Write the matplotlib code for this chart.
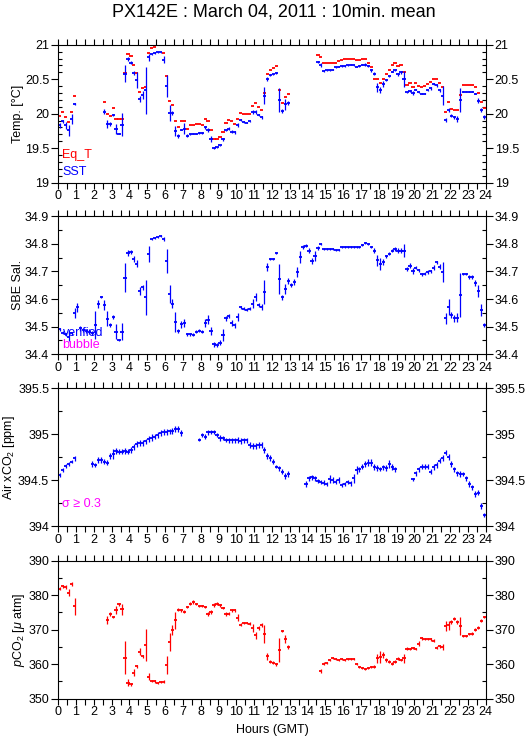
import numpy as np
import matplotlib
matplotlib.use("Agg")
import matplotlib.pyplot as plt
from matplotlib.ticker import MultipleLocator, FormatStrFormatter

plt.rcParams["font.family"] = ["Liberation Sans", "DejaVu Sans"]
plt.rcParams["mathtext.fontset"] = "custom"
plt.rcParams["mathtext.rm"] = "Liberation Sans"
plt.rcParams["mathtext.it"] = "Liberation Sans:italic"

N = np.nan

# 10-minute slots, one line per hour (6 slots)
sst = [
    19.83, 19.89, 19.83, 19.76, 19.92, 20.14,
    N, N, N, N, N, N,
    N, N, N, 20.03, 19.85, 19.85,
    19.98, 19.78, 19.71, 19.84, 20.58, 20.79,
    20.74, 20.59, 20.49, 20.21, 20.27, 20.34,
    20.82, 20.86, 20.88, 20.89, 20.89, 20.78,
    20.40, 20.01, 20.01, 19.75, 19.68, 19.77,
    19.78, 19.68, 19.70, 19.71, 19.71, 19.72,
    19.72, 19.80, 19.76, 19.63, 19.50, 19.51,
    19.54, 19.63, 19.76, 19.78, 19.74, 19.73,
    19.84, 19.91, 19.88, 19.87, 19.89, 20.02,
    20.03, 19.98, 19.95, 20.26, 20.50, 20.56,
    20.57, 20.59, 20.20, 20.04, 20.14, 20.16,
    N, N, N, N, N, N,
    N, N, N, 20.75, 20.71, 20.62,
    20.63, 20.63, 20.64, 20.67, 20.68, 20.69,
    20.69, 20.70, 20.71, 20.70, 20.68, 20.69,
    20.71, 20.71, 20.69, 20.63, 20.58, 20.38,
    20.34, 20.43, 20.49, 20.54, 20.61, 20.63,
    20.57, 20.60, 20.50, 20.31, 20.33, 20.30,
    20.35, 20.31, 20.29, 20.29, 20.34, 20.37,
    20.43, 20.41, 20.34, 20.26, 19.91, 20.05,
    19.97, 19.95, 19.92, 20.20, 20.32, 20.32,
    20.32, 20.32, 20.29, 20.19, 20.05, 19.95,
]
sst_sd = [
    0.036, 0.02, 0.05, 0.08, 0.07, 0.01,
    0, 0, 0, 0, 0, 0,
    0, 0, 0, 0.04, 0.06, 0.03,
    0.02, 0.07, 0.01, 0.17, 0.12, 0.03,
    0.02, 0.03, 0.12, 0.04, 0.06, 0.34,
    0.05, 0.01, 0.01, 0.01, 0.01, 0.05,
    0.16, 0.12, 0.03, 0.07, 0.03, 0.01,
    0.08, 0.02, 0.01, 0.01, 0.01, 0.01,
    0.01, 0.02, 0.03, 0.04, 0.01, 0.01,
    0.01, 0.02, 0.01, 0.02, 0.02, 0.02,
    0.03, 0.01, 0.01, 0.01, 0.01, 0.03,
    0.03, 0.02, 0.02, 0.12, 0.03, 0.01,
    0.01, 0.01, 0.17, 0.03, 0.08, 0.03,
    0, 0, 0, 0, 0, 0,
    0, 0, 0, 0.02, 0.03, 0.01,
    0.01, 0.01, 0.01, 0.01, 0.01, 0.01,
    0.01, 0.01, 0.01, 0.01, 0.01, 0.01,
    0.01, 0.02, 0.01, 0.02, 0.02, 0.06,
    0.04, 0.04, 0.02, 0.01, 0.01, 0.01,
    0.02, 0.02, 0.12, 0.01, 0.02, 0.03,
    0.01, 0.01, 0.01, 0.01, 0.01, 0.02,
    0.02, 0.02, 0.02, 0.14, 0.03, 0.03,
    0.02, 0.02, 0.04, 0.17, 0.01, 0.01,
    0.01, 0.01, 0.01, 0.04, 0.03, 0.03,
]
eq_t = [
    19.97, 20.02, 19.95, 19.88, 20.02, 20.25,
    N, N, N, N, N, N,
    N, N, N, 20.17, 20.00, 19.96,
    20.08, 19.93, 19.92, 19.92, 20.59, 20.86,
    20.84, 20.70, 20.59, 20.31, 20.37, 20.39,
    20.88, 20.95, 20.97, 20.99, 20.99, 20.88,
    20.54, 20.18, 20.12, 19.90, 19.81, 19.89,
    19.89, 19.78, 19.83, 19.83, 19.85, 19.85,
    19.84, 19.93, 19.90, 19.77, 19.64, 19.64,
    19.66, 19.74, 19.87, 19.91, 19.90, 19.85,
    19.93, 20.01, 20.00, 19.99, 20.00, 20.11,
    20.15, 20.09, 20.06, 20.30, 20.58, 20.64,
    20.66, 20.69, 20.34, 20.15, 20.24, 20.29,
    N, N, N, N, N, N,
    N, N, N, 20.85, 20.82, 20.73,
    20.73, 20.73, 20.73, 20.73, 20.76, 20.78,
    20.79, 20.80, 20.79, 20.79, 20.78, 20.78,
    20.80, 20.79, 20.73, 20.68, 20.50, 20.50,
    20.44, 20.50, 20.57, 20.64, 20.70, 20.73,
    20.69, 20.70, 20.61, 20.41, 20.44, 20.38,
    20.45, 20.40, 20.38, 20.40, 20.43, 20.46,
    20.50, 20.50, 20.44, 20.38, 20.03, 20.17,
    20.07, 20.06, 20.05, 20.27, 20.41, 20.42,
    20.41, 20.42, 20.38, 20.30, 20.17, 20.08,
]

sal = [
    34.490, 34.478, 34.473, 34.464, 34.476, 34.548,
    34.570, 34.494, 34.488, 34.485, 34.482, 34.478,
    34.506, 34.582, 34.608, 34.578, 34.529, 34.506,
    34.536, 34.482, 34.452, 34.482, 34.678, 34.767,
    34.770, 34.746, 34.728, 34.630, 34.642, 34.606,
    34.764, 34.818, 34.821, 34.824, 34.829, 34.817,
    34.738, 34.618, 34.584, 34.518, 34.484, 34.509,
    34.514, 34.473, 34.473, 34.471, 34.482, 34.485,
    34.482, 34.514, 34.526, 34.485, 34.436, 34.434,
    34.442, 34.470, 34.530, 34.538, 34.514, 34.505,
    34.536, 34.570, 34.565, 34.562, 34.565, 34.584,
    34.608, 34.578, 34.572, 34.626, 34.716, 34.744,
    34.744, 34.767, 34.674, 34.606, 34.638, 34.666,
    34.650, 34.662, 34.698, 34.752, 34.788, 34.794,
    34.776, 34.738, 34.755, 34.786, 34.800, 34.782,
    34.782, 34.782, 34.782, 34.779, 34.779, 34.788,
    34.788, 34.788, 34.788, 34.788, 34.790, 34.790,
    34.795, 34.803, 34.800, 34.788, 34.776, 34.740,
    34.728, 34.734, 34.755, 34.764, 34.776, 34.782,
    34.776, 34.776, 34.776, 34.708, 34.721, 34.702,
    34.714, 34.704, 34.690, 34.692, 34.698, 34.700,
    34.714, 34.733, 34.718, 34.698, 34.530, 34.572,
    34.542, 34.530, 34.533, 34.614, 34.692, 34.692,
    34.680, 34.680, 34.658, 34.630, 34.560, 34.506,
]
sal_sd = [
    0.005, 0.005, 0.005, 0.015, 0.005, 0.018,
    0.015, 0.008, 0.008, 0.008, 0.008, 0.008,
    0.05, 0.015, 0.005, 0.018, 0.027, 0.008,
    0.008, 0.027, 0.005, 0.03, 0.054, 0.012,
    0.008, 0.01, 0.012, 0.015, 0.01, 0.063,
    0.03, 0.004, 0.004, 0.004, 0.004, 0.008,
    0.042, 0.033, 0.018, 0.036, 0.008, 0.012,
    0.015, 0.005, 0.005, 0.005, 0.005, 0.005,
    0.005, 0.015, 0.015, 0.015, 0.008, 0.008,
    0.008, 0.021, 0.01, 0.008, 0.012, 0.008,
    0.015, 0.005, 0.005, 0.005, 0.005, 0.015,
    0.015, 0.008, 0.01, 0.042, 0.015, 0.004,
    0.004, 0.005, 0.054, 0.01, 0.018, 0.012,
    0.008, 0.01, 0.018, 0.021, 0.008, 0.005,
    0.01, 0.012, 0.018, 0.008, 0.005, 0.004,
    0.004, 0.004, 0.004, 0.004, 0.004, 0.004,
    0.004, 0.004, 0.004, 0.004, 0.004, 0.004,
    0.004, 0.004, 0.004, 0.004, 0.008, 0.021,
    0.021, 0.012, 0.006, 0.006, 0.006, 0.006,
    0.01, 0.01, 0.024, 0.008, 0.01, 0.01,
    0.006, 0.006, 0.006, 0.006, 0.006, 0.006,
    0.01, 0.006, 0.008, 0.036, 0.021, 0.03,
    0.012, 0.012, 0.015, 0.08, 0.004, 0.004,
    0.008, 0.008, 0.012, 0.022, 0.021, 0.006,
]

xco2 = [
    394.556, 394.610, 394.654, 394.675, 394.700, 394.737,
    N, N, N, N, N, 394.672,
    394.665, 394.720, 394.720, 394.700, 394.690, 394.763,
    394.785, 394.817, 394.810, 394.810, 394.813, 394.810,
    394.828, 394.857, 394.893, 394.900, 394.900, 394.919,
    394.948, 394.962, 394.973, 394.990, 395.010, 395.024,
    395.024, 395.028, 395.035, 395.053, 395.053, 395.010,
    N, N, N, N, N, 394.937,
    394.988, 394.973, 395.017, 395.024, 395.024, 394.988,
    394.955, 394.959, 394.937, 394.930, 394.930, 394.930,
    394.937, 394.922, 394.930, 394.930, 394.879, 394.872,
    394.872, 394.879, 394.883, 394.828, 394.763, 394.737,
    394.700, 394.646, 394.628, 394.592, 394.545, 394.566,
    N, N, N, N, N, 394.458,
    394.519, 394.530, 394.519, 394.490, 394.480, 394.472,
    394.458, 394.508, 394.501, 394.483, 394.501, 394.447,
    394.458, 394.480, 394.465, 394.519, 394.610, 394.617,
    394.646, 394.675, 394.690, 394.690, 394.639, 394.628,
    394.621, 394.639, 394.628, 394.675, 394.639, 394.617,
    N, N, N, N, N, 394.508,
    394.574, 394.617, 394.646, 394.646, 394.646, 394.592,
    394.639, 394.665, 394.712, 394.737, 394.799, 394.748,
    394.675, 394.617, 394.574, 394.566, 394.566, 394.519,
    394.458, 394.421, 394.349, 394.363, 394.218, 394.120,
]
xco2_sd = [
    0.025, 0.02, 0.02, 0.025, 0.02, 0.025,
    0, 0, 0, 0, 0, 0.035,
    0.02, 0.03, 0.03, 0.025, 0.03, 0.03,
    0.055, 0.035, 0.03, 0.03, 0.03, 0.03,
    0.035, 0.035, 0.03, 0.03, 0.03, 0.03,
    0.035, 0.035, 0.03, 0.03, 0.03, 0.03,
    0.035, 0.03, 0.03, 0.035, 0.035, 0.03,
    0, 0, 0, 0, 0, 0.015,
    0.025, 0.025, 0.025, 0.025, 0.025, 0.025,
    0.035, 0.025, 0.025, 0.03, 0.03, 0.03,
    0.035, 0.03, 0.025, 0.03, 0.03, 0.03,
    0.035, 0.03, 0.03, 0.03, 0.03, 0.03,
    0.03, 0.02, 0.025, 0.03, 0.03, 0.03,
    0, 0, 0, 0, 0, 0.035,
    0.03, 0.03, 0.025, 0.02, 0.02, 0.025,
    0.025, 0.045, 0.03, 0.025, 0.03, 0.025,
    0.025, 0.025, 0.025, 0.05, 0.04, 0.03,
    0.03, 0.035, 0.04, 0.04, 0.03, 0.03,
    0.025, 0.025, 0.03, 0.04, 0.03, 0.025,
    0, 0, 0, 0, 0, 0.015,
    0.025, 0.03, 0.03, 0.03, 0.03, 0.03,
    0.03, 0.03, 0.03, 0.03, 0.03, 0.03,
    0.03, 0.03, 0.025, 0.03, 0.025, 0.025,
    0.03, 0.03, 0.03, 0.03, 0.035, 0.025,
]

pco2 = [
    381.9, 382.6, 382.4, 380.7, 383.2, 376.8,
    N, N, N, N, N, N,
    N, N, N, N, 372.9, 374.5,
    373.7, 375.8, 377.4, 375.9, 361.95, 354.6,
    354.2, 357.5, 359.4, 363.6, 362.3, 365.5,
    356.4, 355.2, 355.0, 354.6, 354.8, 354.9,
    359.7, 366.5, 369.9, 372.7, 375.8, 375.6,
    375.2, 376.6, 377.6, 378.0, 377.4, 377.0,
    377.0, 376.6, 374.5, 375.1, 377.1, 377.6,
    377.1, 376.4, 374.5, 374.7, 375.6, 375.6,
    373.5, 371.5, 372.0, 372.0, 371.8, 370.5,
    368.4, 370.6, 371.3, 368.7, 362.3, 360.7,
    360.4, 360.0, 364.1, 369.6, 367.4, 365.0,
    N, N, N, N, N, N,
    N, N, N, N, 358.1, 360.2,
    360.4, 361.2, 361.7, 361.4, 361.2, 361.4,
    361.2, 361.4, 361.5, 361.5, 360.0, 359.1,
    358.8, 358.6, 358.8, 359.1, 359.3, 361.7,
    362.0, 362.6, 361.2, 360.7, 360.2, 360.7,
    361.6, 361.2, 361.7, 364.5, 364.5, 364.7,
    364.5, 366.0, 367.5, 367.3, 367.3, 367.2,
    366.8, 364.8, 365.2, 365.0, 371.0, 371.3,
    372.3, 373.2, 372.3, 371.0, 368.1, 368.1,
    368.7, 368.9, 370.0, 370.6, 372.6, 373.7,
]
pco2_sd = [
    0.4, 0.4, 0.5, 1.0, 0.6, 2.4,
    0, 0, 0, 0, 0, 0,
    0, 0, 0, 0, 1.2, 0.5,
    0.4, 1.2, 0.4, 1.5, 4.8, 1.0,
    0.5, 1.0, 0.5, 1.0, 0.5, 4.7,
    1.0, 0.3, 0.3, 0.3, 0.3, 0.4,
    2.6, 2.6, 1.4, 2.5, 0.4, 0.4,
    0.4, 0.4, 0.4, 0.5, 0.3, 0.3,
    0.3, 0.4, 0.5, 0.5, 0.6, 0.4,
    0.4, 0.3, 0.5, 0.5, 0.5, 0.5,
    1.0, 0.4, 0.3, 0.3, 0.4, 1.2,
    1.0, 0.6, 0.6, 2.6, 1.0, 0.4,
    0.4, 0.5, 3.4, 0.4, 1.2, 0.5,
    0, 0, 0, 0, 0, 0,
    0, 0, 0, 0, 0.6, 0.4,
    0.3, 0.3, 0.3, 0.3, 0.3, 0.3,
    0.3, 0.3, 0.3, 0.3, 0.3, 0.3,
    0.3, 0.3, 0.3, 0.3, 0.4, 1.3,
    1.7, 0.9, 0.5, 0.4, 0.4, 0.4,
    0.4, 0.4, 1.2, 0.4, 0.3, 0.3,
    0.3, 0.8, 0.4, 0.4, 0.4, 0.4,
    0.4, 0.4, 0.4, 0.8, 1.4, 1.3,
    0.5, 0.5, 0.6, 2.6, 0.3, 0.3,
    0.3, 0.5, 0.4, 0.4, 0.5, 0.3,
]

# slot centres in hours (GMT)
hours = (np.arange(len(sst)) + 0.5) / 6.0
dash_half = 0.09  # half width of the 10-min dash, hours

BLUE = "#0000ff"
RED = "#ff0000"
MAGENTA = "#ff00ff"


def draw_series(ax, values, sd, color):
    values = np.asarray(values, float)
    ok = ~np.isnan(values)
    # horizontal dash for the 10-min window
    ax.errorbar(hours[ok], values[ok], xerr=dash_half, fmt="none",
                ecolor=color, elinewidth=1.3, capsize=0)
    # vertical bar for the standard deviation
    if sd is not None:
        ax.errorbar(hours[ok], values[ok], yerr=np.asarray(sd, float)[ok],
                    fmt="none", ecolor=color, elinewidth=0.9, capsize=0)


def style_axis(ax, ylim, major, minor, ylabel):
    ax.set_xlim(0, 24)
    ax.set_ylim(*ylim)
    ax.xaxis.set_major_locator(MultipleLocator(1))
    ax.xaxis.set_minor_locator(MultipleLocator(0.5))
    ax.yaxis.set_major_locator(MultipleLocator(major))
    ax.yaxis.set_minor_locator(MultipleLocator(minor))
    ax.yaxis.set_major_formatter(FormatStrFormatter("%g"))
    ax.tick_params(axis="x", which="both", direction="out", top=True,
                   length=4, width=0.8, labelsize=9, pad=1.5)
    ax.tick_params(axis="y", which="major", direction="out", right=True,
                   labelright=True, length=5, width=0.8, labelsize=9, pad=1.5)
    ax.tick_params(axis="y", which="minor", direction="in", right=True,
                   length=3, width=0.8)
    for sp in ax.spines.values():
        sp.set_linewidth(0.8)
    ax.set_ylabel(ylabel, fontsize=9, labelpad=1)


fig = plt.figure(figsize=(5.29, 7.39), dpi=100)
left, width, height = 0.110, 0.808, 0.1867
ax1 = fig.add_axes([left, 0.7528, width, height])
ax2 = fig.add_axes([left, 0.5206, width, height])
ax3 = fig.add_axes([left, 0.2882, width, height])
ax4 = fig.add_axes([left, 0.0545, width, height])

# Temperature
draw_series(ax1, eq_t, None, RED)
draw_series(ax1, sst, sst_sd, BLUE)
style_axis(ax1, (19, 21), 0.5, 0.1, "Temp. [°C]")
ax1.text(0.01, 0.20, "Eq_T", color=RED, fontsize=9, transform=ax1.transAxes, va="center")
ax1.text(0.01, 0.08, "SST", color=BLUE, fontsize=9, transform=ax1.transAxes, va="center")

# Salinity
ax2.text(0.01, 0.155, "verified", color=BLUE, fontsize=9, transform=ax2.transAxes, va="center")
ax2.text(0.01, 0.065, "bubble", color=MAGENTA, fontsize=9, transform=ax2.transAxes, va="center")
draw_series(ax2, sal, sal_sd, BLUE)
style_axis(ax2, (34.4, 34.9), 0.1, 0.05, "SBE Sal.")

# Air xCO2
draw_series(ax3, xco2, xco2_sd, BLUE)
style_axis(ax3, (394, 395.5), 0.5, 0.25, "Air xCO$_2$ [ppm]")
ax3.text(0.01, 0.158, "σ ≥ 0.3", color=MAGENTA, fontsize=9, transform=ax3.transAxes, va="center")

# pCO2
draw_series(ax4, pco2, pco2_sd, RED)
style_axis(ax4, (350, 390), 10, 5, "$p$CO$_2$ [$\\mu$ atm]")
ax4.set_xlabel("Hours (GMT)", fontsize=9, labelpad=4)

fig.text(0.5185, 0.984, "PX142E : March 04, 2011 : 10min. mean", ha="center", va="center",
         fontsize=13)

fig.savefig("out.png", dpi=100)
